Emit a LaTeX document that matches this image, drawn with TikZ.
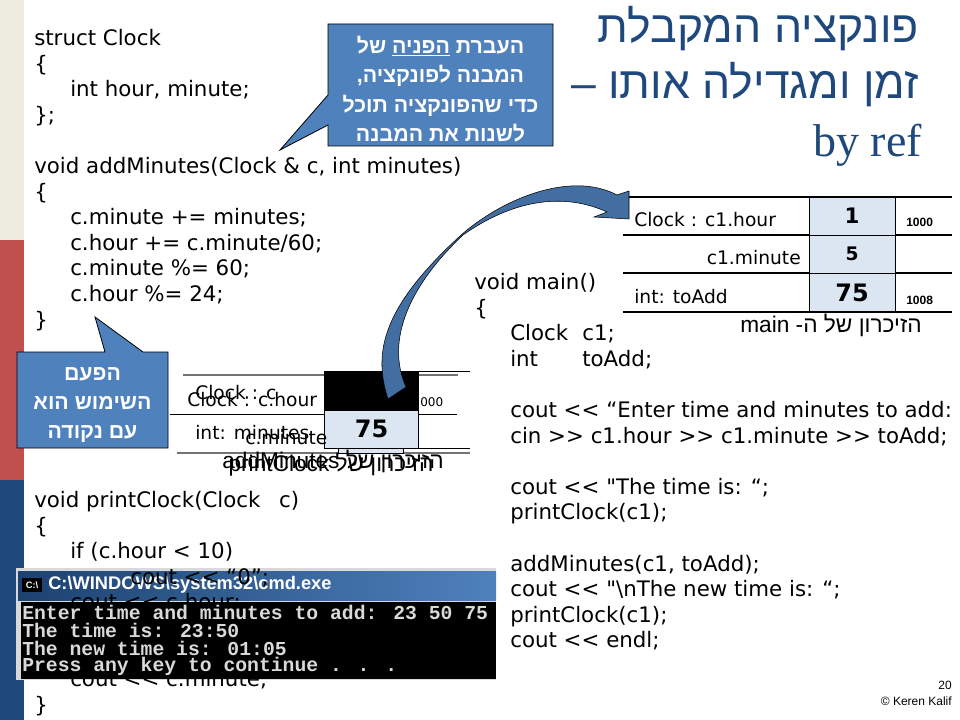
\documentclass[tikz,border=0pt]{standalone}
\usepackage{fontspec}
\setmainfont{DejaVu Sans}
\newfontfamily\codefont{DejaVu Sans}
\newfontfamily\hebfont[Script=Hebrew]{Liberation Sans}
\newfontfamily\serifont{Liberation Serif}
\newfontfamily\consfont{Liberation Mono}
\newfontfamily\armfont{Liberation Sans}
\TeXXeTstate=1
\newcommand{\ind}{\hspace*{27pt}}
\newcommand{\heb}[1]{{\hebfont\beginR #1\endR}}
\definecolor{titleblue}{HTML}{1F497D}
\definecolor{boxblue}{HTML}{4F81BD}
\definecolor{cellblue}{HTML}{DCE6F2}
\definecolor{barbeige}{HTML}{EEECE1}
\definecolor{barred}{HTML}{C0504D}
\tikzset{every node/.style={inner sep=0pt}, % Coordinates below are in reference pixels
codetext/.style={anchor=north west,align=left,font=\codefont\fontsize{16}{19.2}\selectfont},
titletext/.style={anchor=east,text=titleblue,font=\hebfont\fontsize{33.4}{40}\selectfont},
callouttext/.style={align=center,text=white,font=\hebfont\bfseries\fontsize{16}{22}\selectfont},
calloutshape/.style={draw=black,fill=boxblue,line width=0.6pt},
tablelabel/.style={anchor=west,font=\fontsize{14}{16}\selectfont},
valuecell/.style={draw=black,fill=cellblue,minimum width=64.5pt,minimum height=28.5pt,line width=0.6pt,font=\bfseries\fontsize{14}{16}\selectfont},
addrtext/.style={anchor=west,font=\armfont\bfseries\fontsize{9}{10}\selectfont},
constext/.style={anchor=west,text=black!15,font=\consfont\bfseries\fontsize{14.8}{16}\selectfont},
capttext/.style={font=\hebfont\fontsize{17}{19}\selectfont},
foottext/.style={anchor=east,font=\armfont\fontsize{9}{10}\selectfont},
rowline/.style={line width=1pt}}

\begin{document}
\begin{tikzpicture}[x=0.75pt,y=-0.75pt]
    \useasboundingbox (0,0) rectangle (960,720);
    % side bar
    \fill[barbeige] (0,0) rectangle (24,240);
    \fill[barred] (0,240) rectangle (24,480);
    \fill[titleblue] (0,480) rectangle (24,720);
    % title
    \node[titletext] (title1) at (919,29) {\heb{פונקציה המקבלת}};
    \node[titletext] (title2) at (919,85) {\heb{זמן ומגדילה אותו –}};
    \node[titletext,font=\serifont\fontsize{34.5}{40}\selectfont] (title3) at (922,145) {by ref};
    % console title bar, under the code
    \fill[black!15] (16,568) rectangle (496,680);
    \shade[left color=titleblue!90!black,right color=boxblue] (18,571) rectangle (496,600);
    \node[fill=black,text=white,font=\armfont\bfseries\fontsize{7}{8}\selectfont,minimum width=15pt,minimum height=10pt] (consicon) at (32,585) {C:\textbackslash};
    \node[anchor=west,text=white,font=\armfont\bfseries\fontsize{13.7}{18}\selectfont] (constitle) at (48,585) {C:\textbackslash WINDOWS\textbackslash system32\textbackslash cmd.exe};
    % code
    \node[codetext] (structcode) at (34,29) {struct Clock\\
    \{\\
    \ind int hour, minute;\\
    \};\\
    ~\\
    void addMinutes(Clock \& c, int minutes)\\
    \{\\
    \ind c.minute += minutes;\\
    \ind c.hour += c.minute/60;\\
    \ind c.minute \%= 60;\\
    \ind c.hour \%= 24;\\
    \}};
    \node[codetext] (printcode) at (34,491) {void printClock(Clock\hspace{14pt}c)\\
    \{\\
    \ind if (c.hour < 10)\\
    \ind\ind\hspace{18pt}cout << “0”;\\
    \ind cout << c.hour;\\
    ~\\
    ~\\
    \ind cout << c.minute;\\
    \}};
    \node[codetext] (maincode) at (474,273) {void main()\\
    \{\\
    \ind\makebox[54pt][l]{Clock}c1;\\
    \ind\makebox[54pt][l]{int}toAdd;\\
    ~\\
    \ind cout << “Enter time and minutes to add:\\
    \ind cin >> c1.hour >> c1.minute >> toAdd;\\
    ~\\
    \ind cout << "The time is: “;\\
    \ind printClock(c1);\\
    ~\\
    \ind addMinutes(c1, toAdd);\\
    \ind cout << "\textbackslash nThe new time is: “;\\
    \ind printClock(c1);\\
    \ind cout << endl;};
    % console body
    \fill[black] (21,602) rectangle (496,679);
    \node[constext] (cons1) at (22,612) {Enter time and minutes to add: 23 50 75};
    \node[constext] (cons2) at (22,630) {The time is: 23:50};
    \node[constext] (cons3) at (22,648) {The new time is: 01:05};
    \node[constext] (cons4) at (22,666) {Press any key to continue . . .};
    % memory of main
    \foreach \y in {197,235,273,312}
        \draw[rowline] (623,\y) -- (952,\y);
    \node[valuecell] (hourcell) at (852,216) {\fontsize{16}{18}\selectfont 1};
    \node[valuecell] (minutecell) at (852,254) {5};
    \node[valuecell] (addcell) at (852,292.5) {\fontsize{18}{20}\selectfont 75};
    \node[tablelabel] (hourlabel) at (634,220) {Clock : c1.hour};
    \node[tablelabel,anchor=east] (minutelabel) at (801,258) {c1.minute};
    \node[tablelabel] (addlabel) at (634,297) {int: toAdd};
    \node[addrtext] (addr1) at (906,222) {1000};
    \node[addrtext] (addr2) at (906,300) {1008};
    \node[capttext] (maincap) at (831,325) {\beginR הזיכרון של ה- \beginL main\endL\endR};
    % memory of the two functions
    \draw[line width=1pt,black!55] (183,375) -- (458,375);
    \draw[line width=0.6pt] (325,371) -- (470,371);
    \draw[line width=0.6pt] (170,414) -- (457,414);
    \draw[line width=0.6pt] (324,448) -- (470,448);
    \draw[line width=1pt,black!55] (177,453) -- (470,453);
    \fill[black] (324,371) rectangle (419,410);
    \node[draw=black,fill=cellblue,minimum width=71pt,minimum height=28.5pt,line width=0.6pt,font=\bfseries\fontsize{18}{20}\selectfont] (minutesval) at (371.5,429) {75};
    \draw[fill=cellblue,line width=0.4pt] (338,448) rectangle (403,453);
    \node[tablelabel] (clocklabel) at (195,393) {Clock : c};
    \node[tablelabel] (hourlabel2) at (187,400) {Clock : c.hour};
    \node[tablelabel] (minuteslabel) at (195,433) {int: minutes};
    \node[tablelabel] (minutelabel2) at (245,438) {c.minute};
    \node[addrtext,font=\fontsize{9}{10}\selectfont] (addr3) at (420,402) {000};
    \node[capttext] (addcap) at (333,461) {\beginR הזיכרון של \beginL addMinutes\endL\endR};
    \node[capttext] (printcap) at (331,465) {\beginR הזיכרון של \beginL printClock\endL\endR};
    % big arrow
    \draw[fill=boxblue!85!black,line width=0.4pt] (388,399) .. controls (372,350) and (385,305) .. (460,236)
        .. controls (500,200) and (570,170) .. (617,195) -- (629,191) -- (629,219) -- (594,217) -- (607,212)
        .. controls (570,195) and (520,195) .. (463,235) .. controls (410,285) and (385,340) .. (406,387) -- cycle;
    % callouts
    \draw[calloutshape] (328,24) -- (553,24) -- (553,146) -- (328,146) -- (328,125) -- (280,150) -- (328,95) -- cycle;
    \node[callouttext] (refnote) at (440.5,89) {\heb{העברת \underline{\beginR הפניה\endR} של}\\ \heb{המבנה לפונקציה,}\\ \heb{כדי שהפונקציה תוכל}\\ \heb{לשנות את המבנה}};
    \draw[calloutshape] (17,352) -- (105,352) -- (95,317) -- (143,352) -- (168,352) -- (168,448) -- (17,448) -- cycle;
    \node[callouttext] (dotnote) at (92.5,405) {\heb{הפעם}\\ \heb{השימוש הוא}\\ \heb{עם נקודה}};
    % footer
    \node[foottext] (pagenum) at (952,685) {20};
    \node[foottext] (footname) at (952,701) {© Keren Kalif};
\end{tikzpicture}
\end{document}
